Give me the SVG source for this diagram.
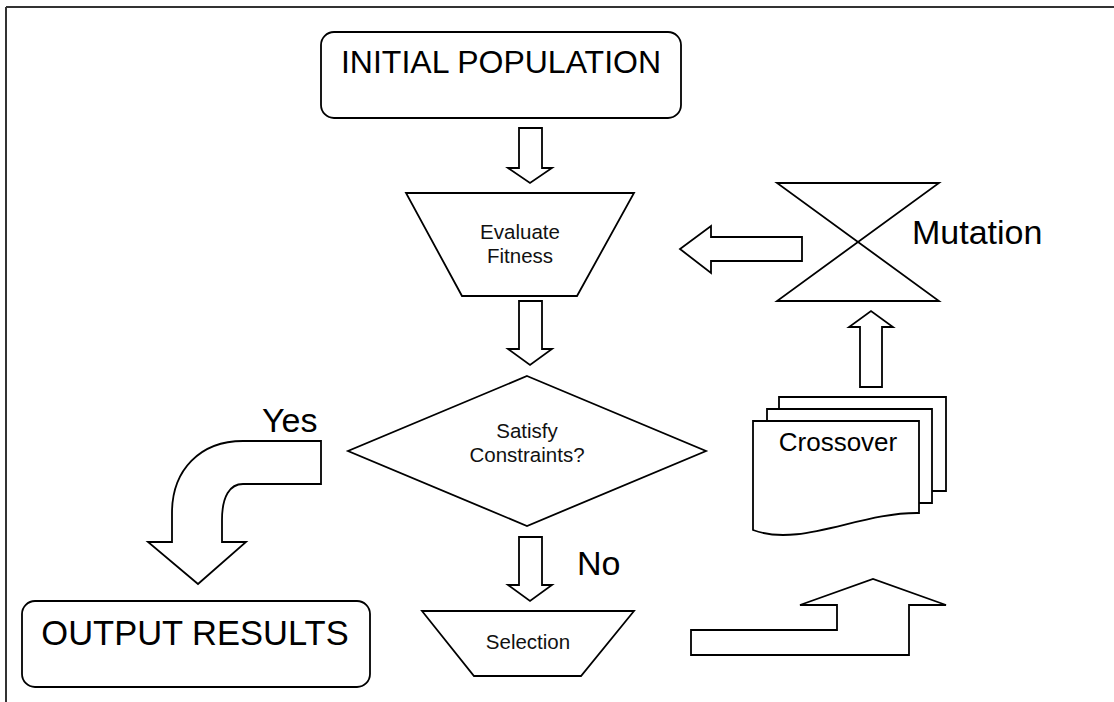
<svg xmlns="http://www.w3.org/2000/svg" width="1114" height="702" viewBox="0 0 1114 702">
  <style>
    .shape { fill: #ffffff; stroke: #000000; stroke-width: 1.8; stroke-linejoin: miter; }
    .frame { fill: none; stroke: #333333; stroke-width: 2; }
    .big { font-family: "Liberation Sans", Arial, sans-serif; font-size: 32px; fill: #000000; }
    .big-out { font-family: "Liberation Sans", Arial, sans-serif; font-size: 34.5px; fill: #000000; }
    .lbl { font-family: "Liberation Sans", Arial, sans-serif; font-size: 34px; fill: #000000; }
    .small { font-family: "Liberation Sans", Arial, sans-serif; font-size: 20.5px; fill: #111111; text-anchor: middle; }
    .mid { font-family: "Liberation Sans", Arial, sans-serif; font-size: 26px; fill: #000000; text-anchor: middle; }
  </style>

  <rect width="1114" height="702" fill="#ffffff"/>

  <!-- page frame: top and left rules -->
  <path class="frame" d="M6,7 H1114 M6,7 V702"/>

  <g id="node-initial-population">
    <rect class="shape" x="321" y="32" width="360" height="86" rx="13" ry="13"/>
    <text class="big" x="501" y="73" text-anchor="middle">INITIAL POPULATION</text>
  </g>

  <g id="node-evaluate-fitness">
    <polygon class="shape" points="406,193 634,193 577,296 462,296"/>
    <text class="small" x="520" y="239">Evaluate</text>
    <text class="small" x="520" y="263">Fitness</text>
  </g>

  <g id="node-satisfy-constraints">
    <polygon class="shape" points="527,376 706,451 527,526 348,451"/>
    <text class="small" x="527" y="438">Satisfy</text>
    <text class="small" x="527" y="462">Constraints?</text>
  </g>

  <g id="node-selection">
    <polygon class="shape" points="422,611 634,611 581,676 474,676"/>
    <text class="small" x="528" y="649">Selection</text>
  </g>

  <g id="node-crossover">
    <path class="shape" d="M779,397 H946 V491 H779 Z"/>
    <path class="shape" d="M767,409 H932 V503 H767 Z"/>
    <path class="shape" d="M753,421 H919 V513 C860,512 800,548 753,530 Z"/>
    <text class="mid" x="838" y="451">Crossover</text>
  </g>

  <g id="node-mutation">
    <polygon class="shape" points="777,183 939,183 777,301 939,301"/>
    <text class="lbl" x="912" y="244">Mutation</text>
  </g>

  <g id="node-output-results">
    <rect class="shape" x="22" y="601" width="348" height="86" rx="13" ry="13"/>
    <text class="big-out" x="195" y="645" text-anchor="middle">OUTPUT RESULTS</text>
  </g>

  <g id="connectors">
    <!-- initial population to evaluate fitness -->
    <path class="shape" d="M519,128 H542 V168 H552 L530,183 L508,168 H519 Z"/>
    <!-- evaluate fitness to decision -->
    <path class="shape" d="M519,301 H542 V349 H552 L530,365 L508,349 H519 Z"/>
    <!-- decision to selection (No) -->
    <path class="shape" d="M519,537 H542 V585 H552 L530,601 L508,585 H519 Z"/>
    <text class="lbl" x="577" y="575">No</text>
    <!-- decision to output (Yes) -->
    <path class="shape" d="M321,441 H243 C200,441 172,470 172,513 V542 H148 L198,584 L246,542 H222 V520 C222,496 230,484 243,484 H321 Z"/>
    <text class="lbl" x="262" y="432">Yes</text>
    <!-- selection to crossover -->
    <path class="shape" d="M691,630 H837 V605 H800 L873,579 L946,605 H909 V655 H691 Z"/>
    <!-- crossover to mutation -->
    <path class="shape" d="M860,387 V327 H849 L871,311 L893,327 H882 V387 Z"/>
    <!-- mutation to evaluate fitness -->
    <path class="shape" d="M802,237 V261 H711 V273 L680,249 L711,226 V237 Z"/>
  </g>
</svg>
